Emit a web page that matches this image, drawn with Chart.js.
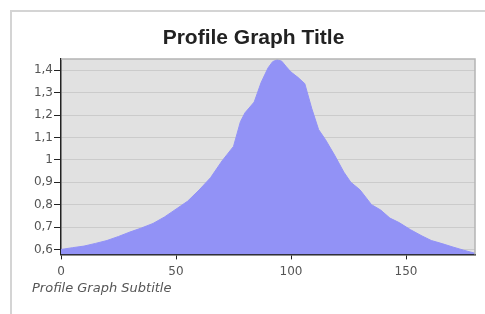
<!DOCTYPE html>
<html><head><meta charset="utf-8">
<script src="https://cdn.jsdelivr.net/npm/chart.js@4"></script>
<style>
html,body{margin:0;padding:0;background:#fff;}
#frame{position:absolute;left:10px;top:10px;width:480px;height:310px;border-left:2px solid #d4d4d4;border-top:2px solid #d4d4d4;}
#c{position:absolute;left:0;top:0;}
</style></head><body>
<div id="frame"></div>
<canvas id="c" width="485" height="314"></canvas>
<script>
const distances = [0,5,10,15,20,25,30,35,40,45,50,55,60,65,70,75,78,80,84,87,90,92,94,96,98,100,103,106,109,112,115,119,123,126,130,135,139,143,147,152,157,161,166,170,175,180];
const profile   = [0.600,0.608,0.615,0.627,0.640,0.658,0.678,0.696,0.716,0.745,0.780,0.815,0.865,0.920,0.995,1.060,1.170,1.210,1.258,1.345,1.410,1.438,1.447,1.440,1.415,1.392,1.368,1.340,1.230,1.135,1.090,1.020,0.945,0.900,0.866,0.800,0.776,0.740,0.720,0.688,0.660,0.640,0.625,0.612,0.597,0.583];
const xTicks = [0,50,100,150];
const yTicks = [0.6,0.7,0.8,0.9,1.0,1.1,1.2,1.3,1.4];
const titleText = 'Profile Graph Title';
const subtitleText = 'Profile Graph Subtitle';

const plotBg = {
  id:'plotBg',
  beforeDraw(chart){
    const {ctx, chartArea:a} = chart;
    ctx.save();
    ctx.fillStyle = '#e1e1e1';
    ctx.fillRect(a.left, a.top, a.right-a.left, a.bottom-a.top);
    ctx.restore();
  },
  afterDraw(chart){
    const {ctx, chartArea:a} = chart;
    ctx.save();
    ctx.strokeStyle = '#b4b4b4';
    ctx.lineWidth = 1.5;
    ctx.beginPath();
    ctx.moveTo(a.left, a.top); ctx.lineTo(a.right, a.top); ctx.lineTo(a.right, a.bottom);
    ctx.stroke();
    ctx.restore();
  }
};

new Chart(document.getElementById('c'), {
  type:'line',
  data:{
    datasets:[{
      data: distances.map((d,i)=>({x:d,y:profile[i]})),
      borderColor:'#9292f6',
      backgroundColor:'#9292f6',
      borderWidth:1,
      pointRadius:0,
      fill:'start',
      tension:0
    }]
  },
  options:{
    responsive:false,
    animation:false,
    layout:{padding:{left:32,right:10,top:0,bottom:0}},
    plugins:{
      legend:{display:false},
      tooltip:{enabled:false},
      title:{display:true,text:titleText,color:'#222',font:{family:'Liberation Sans',size:21,weight:'bold'},padding:{top:25.4,bottom:8.4}},
      subtitle:{display:true,text:subtitleText,position:'bottom',align:'start',color:'#555',font:{family:'DejaVu Sans',size:13,style:'italic'},padding:{top:2,bottom:17.2}}
    },
    scales:{
      x:{
        type:'linear',min:0,max:180,
        afterBuildTicks(s){ s.ticks = xTicks.map(v=>({value:v})); },
        afterFit(s){ s.height = 24.8; },
        grid:{drawOnChartArea:false,drawTicks:true,tickLength:5,tickColor:'#222'},
        border:{display:true,color:'#222',width:1.5},
        ticks:{padding:5.5,color:'#555',font:{family:'DejaVu Sans',size:12},maxRotation:0,autoSkip:false}
      },
      y:{
        type:'linear',min:0.578,max:1.45,
        afterBuildTicks(s){ s.ticks = yTicks.map(v=>({value:v})); },
        afterFit(s){ s.width = 29; },
        grid:{color:'#cbcbcb',lineWidth:1,drawTicks:true,tickLength:7,tickColor:'#222'},
        border:{display:true,color:'#222',width:1.5},
        ticks:{padding:1,color:'#555',font:{family:'DejaVu Sans',size:12},
          callback:(v)=>String(Math.round(v*10)/10).replace('.',',')}
      }
    }
  },
  plugins:[plotBg]
});
</script>
</body></html>
